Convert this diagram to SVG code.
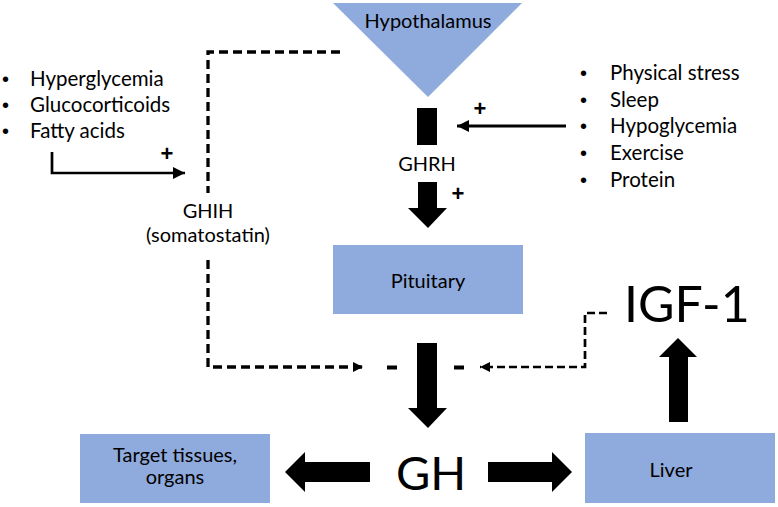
<svg xmlns="http://www.w3.org/2000/svg" width="778" height="507" viewBox="0 0 778 507">
<defs>
<style>
.box{fill:#8faadc}
.t{font-family:Lato,"Liberation Sans",sans-serif;fill:#000}
.m{font-size:20px;text-anchor:middle}
.b{font-size:20.5px}
.dot{font-family:"Liberation Sans",sans-serif;font-size:20px}
.big{font-size:50px}
.plus{font-family:"Liberation Sans",sans-serif;font-weight:bold;font-size:22px;text-anchor:middle}
.blk{fill:#000}
.dash{fill:none;stroke:#000;stroke-width:3.3;stroke-dasharray:9,5}
.dash2{fill:none;stroke:#000;stroke-width:2.7;stroke-dasharray:8,4}
.sol{fill:none;stroke:#000;stroke-width:2.7}
</style>
<marker id="ah" viewBox="0 0 10 10" refX="10" refY="5" markerWidth="10" markerHeight="10" markerUnits="userSpaceOnUse" orient="auto">
<path d="M0,0 L10,5 L0,10 Z" fill="#000"/>
</marker>
<marker id="ah2" viewBox="0 0 10 10" refX="10" refY="5" markerWidth="12" markerHeight="12" markerUnits="userSpaceOnUse" orient="auto">
<path d="M0,0 L10,5 L0,10 Z" fill="#000"/>
</marker>
</defs>
<rect width="778" height="507" fill="#fff"/>

<g id="hypothalamus">
<polygon class="box" points="333,3 522,3 428,97"/>
<text class="t m" x="428" y="28">Hypothalamus</text>
</g>

<g id="ghrh">
<rect class="blk" x="417" y="108" width="20" height="37"/>
<text class="t m" x="427" y="171">GHRH</text>
</g>

<g id="pituitary">
<rect class="box" x="333" y="245" width="190" height="69"/>
<text class="t m" x="428" y="288">Pituitary</text>
</g>

<g id="ghih">
<text class="t m" x="208" y="218">GHIH</text>
<text class="t m" x="208" y="242">(somatostatin)</text>
</g>

<g id="stimuli-left">
<text class="dot" x="2" y="86">•</text>
<text class="t b" x="30" y="86">Hyperglycemia</text>
<text class="dot" x="2" y="112">•</text>
<text class="t b" x="30" y="112">Glucocorticoids</text>
<text class="dot" x="2" y="138">•</text>
<text class="t b" x="30" y="138">Fatty acids</text>
</g>

<g id="stimuli-right">
<text class="dot" x="580" y="80">•</text>
<text class="t b" x="610" y="80">Physical stress</text>
<text class="dot" x="580" y="107">•</text>
<text class="t b" x="610" y="107">Sleep</text>
<text class="dot" x="580" y="133">•</text>
<text class="t b" x="610" y="133">Hypoglycemia</text>
<text class="dot" x="580" y="160">•</text>
<text class="t b" x="610" y="160">Exercise</text>
<text class="dot" x="580" y="187">•</text>
<text class="t b" x="610" y="187">Protein</text>
</g>

<g id="gh">
<text class="t big" x="396" y="490" style="font-size:47px">GH</text>
</g>

<g id="igf1">
<text class="t big" x="624" y="322">IGF-1</text>
</g>

<g id="target">
<rect class="box" x="80" y="434" width="190" height="69"/>
<text class="t m" x="175" y="462">Target tissues,</text>
<text class="t m" x="175" y="484">organs</text>
</g>

<g id="liver">
<rect class="box" x="585" y="433" width="190" height="70"/>
<text class="t m" x="671" y="477">Liver</text>
</g>

<g id="connectors">
<!-- GHIH dashed inhibitory path -->
<path class="dash" d="M340,52 H208 V193"/>
<path class="dash" d="M208,260 V367 H363" marker-end="url(#ah)"/>
<!-- IGF-1 dashed feedback -->
<path class="dash2" d="M607,313 H585 V367 H480" marker-end="url(#ah)"/>
<!-- Fatty acids arrow -->
<path class="sol" d="M52,152 V173 H185" marker-end="url(#ah2)"/>
<!-- Stimuli to GHRH -->
<path class="sol" d="M566,126 H457" marker-end="url(#ah2)" style="stroke-width:3"/>
<!-- block arrows -->
<polygon class="blk" points="418,182 437,182 437,208 447,208 428,228 408,208 418,208"/>
<polygon class="blk" points="417,343 437,343 437,408 447,408 428,428 408,408 417,408"/>
<polygon class="blk" points="669,422 688,422 688,357 697,357 678,338 659,357 669,357"/>
<polygon class="blk" points="370,462 370,482 305,482 305,492 285,472 305,452 305,462"/>
<polygon class="blk" points="488,462 488,482 552,482 552,492 572,472 552,452 552,462"/>
<!-- minus signs -->
<rect class="blk" x="387" y="365.5" width="10" height="4"/>
<rect class="blk" x="454" y="365.5" width="10" height="4"/>
<!-- plus signs -->
<text class="plus" x="167" y="161">+</text>
<text class="plus" x="480" y="116">+</text>
<text class="plus" x="458" y="201">+</text>
</g>
</svg>
